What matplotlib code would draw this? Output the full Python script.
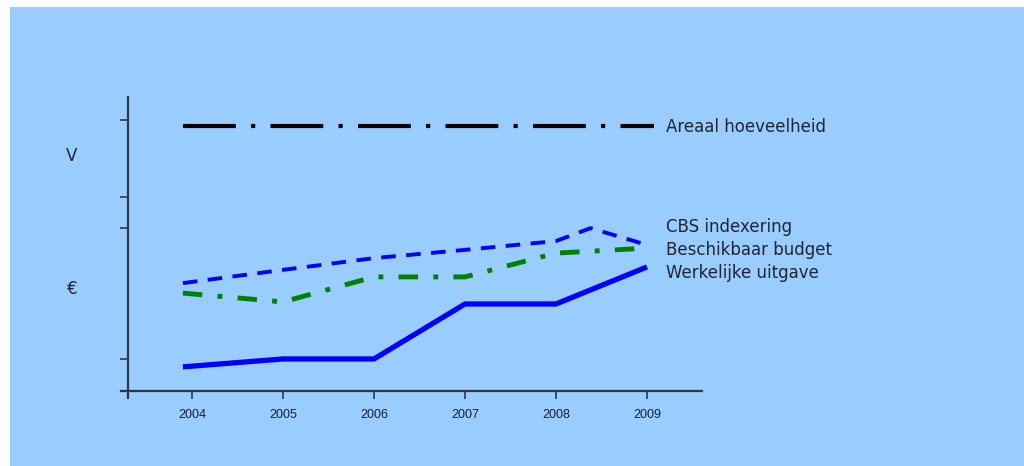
import matplotlib
matplotlib.use("Agg")
import matplotlib.pyplot as plt
from matplotlib.patches import Rectangle

plt.rcParams['lines.scale_dashes'] = False

# Data (arbitrary units)
years = [2004, 2005, 2006, 2007, 2008, 2009]
year_labels = ["2004", "2005", "2006", "2007", "2008", "2009"]

areaal_x = [2003.9, 2009.08]
areaal_y = [9.01, 9.01]

cbs_x = [2003.9, 2005, 2006, 2007, 2008, 2008.38, 2009]
cbs_y = [3.67, 4.12, 4.52, 4.80, 5.10, 5.54, 4.97]

budget_x = [2003.9, 2005, 2006, 2007, 2008, 2009]
budget_y = [3.33, 3.03, 3.88, 3.88, 4.69, 4.86]

uitgave_x = [2003.9, 2005, 2006, 2007, 2008, 2009]
uitgave_y = [0.82, 1.09, 1.09, 2.96, 2.96, 4.22]

ytick_vals = [1.09, 5.54, 6.6, 9.22]

labels = ["Areaal hoeveelheid", "CBS indexering", "Beschikbaar budget", "Werkelijke uitgave"]

W, H = 1024, 466
fig = plt.figure(figsize=(W / 100, H / 100), dpi=100)
fig.patch.set_facecolor("white")
fig.patches.append(Rectangle((10 / W, 0), 1 - 10 / W, 1 - 7 / H, transform=fig.transFigure,
                             facecolor="#99CCFF", edgecolor="none", zorder=-10))

x0, x1 = 121, 702
y0, y1 = 391, 97
ax = fig.add_axes([x0 / W, 1 - y0 / H, (x1 - x0) / W, (y0 - y1) / H])
ax.set_facecolor("none")
ax.set_zorder(5)

px_per_year = 91.0
xmin = 2004 - (192 - x0) / px_per_year
xmax = 2004 + (x1 - 192) / px_per_year
ax.set_xlim(xmin, xmax)
ax.set_ylim(0, 10)

axcol = "#2f3644"
for s in ["top", "right"]:
    ax.spines[s].set_visible(False)
ax.spines["left"].set_position(("axes", 7 / (x1 - x0)))
ax.spines["left"].set_color(axcol)
ax.spines["bottom"].set_color(axcol)
ax.spines["left"].set_linewidth(1.6)
ax.spines["bottom"].set_linewidth(1.6)

ax.set_xticks(years)
ax.set_xticklabels(year_labels, fontsize=9, color="#1a1f2a", family="Liberation Sans")
ax.set_xticks([xmin + 7 / px_per_year], minor=True)
ax.tick_params(axis="x", which="major", length=6, width=1.2, color=axcol, pad=7)
ax.tick_params(axis="x", which="minor", length=6, width=1.6, color=axcol)
ax.set_yticks(ytick_vals)
ax.set_yticklabels([])
ax.tick_params(axis="y", length=6, width=1.2, color=axcol)

ax.plot(areaal_x, areaal_y, color="black", lw=3.0, dashes=(38, 11, 3, 11), solid_capstyle="butt",
        dash_capstyle="butt", clip_on=False)
ax.plot(cbs_x, cbs_y, color="#0000ff", lw=2.8, dashes=(10.5, 7.5), dash_capstyle="butt", clip_on=False)
ax.plot(budget_x, budget_y, color="#008000", lw=3.5, dashes=(14, 11, 3.5, 11), dash_capstyle="butt",
        clip_on=False)
ax.plot(uitgave_x, uitgave_y, color="#0000ff", lw=3.8, solid_capstyle="butt", solid_joinstyle="round",
        clip_on=False)

tcol = "#222530"
fam = "DejaVu Sans"
fs = 12
fig.text(666 / W, 1 - 127 / H, labels[0], fontsize=fs, color=tcol, va="center", ha="left", family=fam)
fig.text(666 / W, 1 - 227 / H, labels[1], fontsize=fs, color=tcol, va="center", ha="left", family=fam)
fig.text(666 / W, 1 - 250 / H, labels[2], fontsize=fs, color=tcol, va="center", ha="left", family=fam)
fig.text(666 / W, 1 - 273 / H, labels[3], fontsize=fs, color=tcol, va="center", ha="left", family=fam)

fig.text(72 / W, 1 - 156 / H, "V", fontsize=fs, color=tcol, va="center", ha="center", family=fam)
fig.text(72 / W, 1 - 289 / H, "€", fontsize=fs, color=tcol, va="center", ha="center", family=fam)

fig.savefig("out.png", dpi=100)
